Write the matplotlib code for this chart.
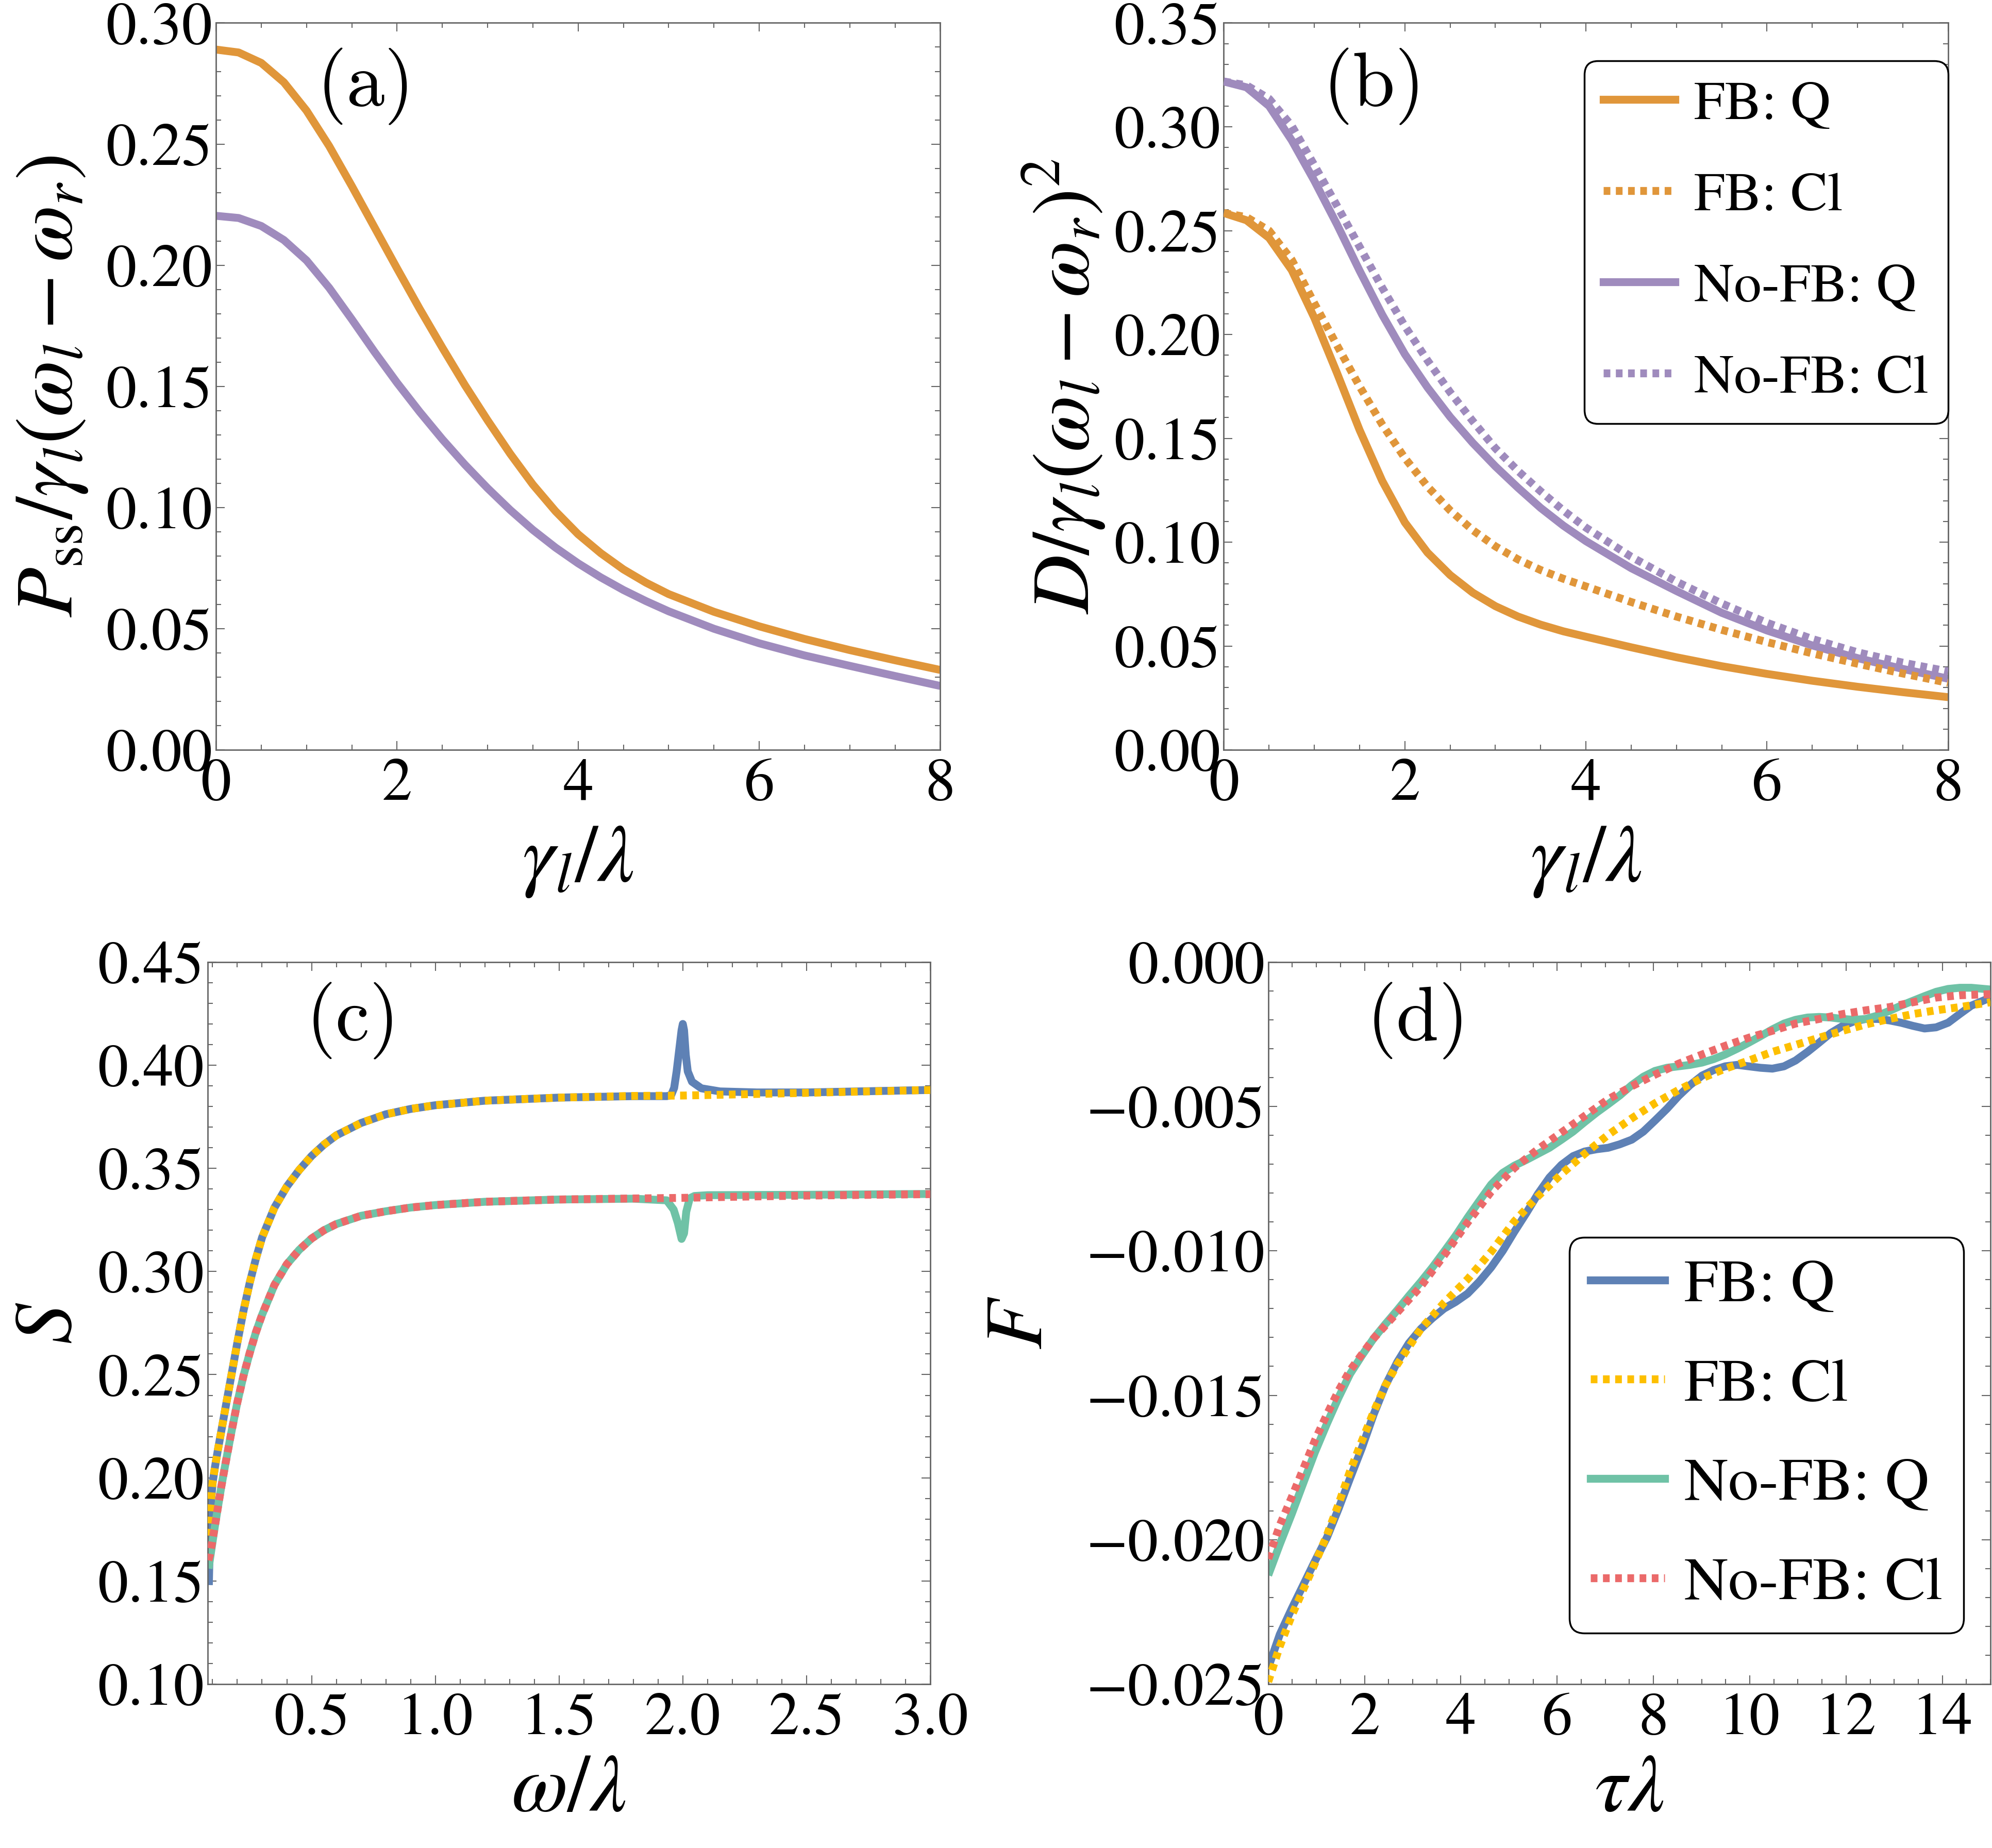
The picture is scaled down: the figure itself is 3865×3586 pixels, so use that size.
import matplotlib
matplotlib.use('Agg')
import matplotlib.pyplot as plt
from matplotlib.ticker import MultipleLocator, FuncFormatter
from matplotlib.lines import Line2D

# ---------------- data ----------------
# panel (a)
gamma_a = [0, 0.25, 0.5, 0.75, 1.0, 1.25, 1.5, 1.75, 2.0, 2.25, 2.5, 2.75, 3.0, 3.25,
           3.5, 3.75, 4.0, 4.25, 4.5, 4.75, 5.0, 5.5, 6.0, 6.5, 7.0, 7.5, 8.0]
pss_fb = [0.2890, 0.2878, 0.2835, 0.2755, 0.2638, 0.2492, 0.2327, 0.2157, 0.1987,
          0.1820, 0.1660, 0.1505, 0.1360, 0.1222, 0.1095, 0.0985, 0.0890, 0.0812,
          0.0745, 0.0690, 0.0643, 0.0570, 0.0510, 0.0458, 0.0412, 0.0370, 0.0330]
pss_nofb = [0.2204, 0.2195, 0.2162, 0.2104, 0.2020, 0.1907, 0.1777, 0.1643, 0.1515,
            0.1395, 0.1282, 0.1177, 0.1080, 0.0990, 0.0908, 0.0835, 0.0770, 0.0712,
            0.0660, 0.0614, 0.0572, 0.0500, 0.0440, 0.0390, 0.0347, 0.0305, 0.0264]

# panel (b)
gamma_b = [0, 0.25, 0.5, 0.75, 1.0, 1.25, 1.5, 1.75, 2.0, 2.25, 2.5, 2.75, 3.0, 3.25,
           3.5, 3.75, 4.0, 4.5, 5.0, 5.5, 6.0, 6.5, 7.0, 7.5, 8.0]
d_fb_q = [0.2585, 0.2550, 0.2465, 0.2310, 0.2080, 0.1815, 0.1540, 0.1295, 0.1095,
          0.0950, 0.0842, 0.0757, 0.0692, 0.0642, 0.0603, 0.0571, 0.0545, 0.0494,
          0.0446, 0.0403, 0.0366, 0.0333, 0.0304, 0.0278, 0.0254]
d_fb_cl = [0.2585, 0.2565, 0.2500, 0.2360, 0.2150, 0.1948, 0.1750, 0.1566, 0.1405,
           0.1268, 0.1153, 0.1058, 0.0980, 0.0917, 0.0866, 0.0824, 0.0787, 0.0712,
           0.0642, 0.0578, 0.0519, 0.0465, 0.0415, 0.0368, 0.0323]
d_nofb_q = [0.3218, 0.3190, 0.3100, 0.2935, 0.2740, 0.2530, 0.2307, 0.2095, 0.1905,
            0.1745, 0.1603, 0.1478, 0.1365, 0.1262, 0.1165, 0.1080, 0.1005, 0.0875,
            0.0765, 0.0660, 0.0575, 0.0503, 0.0442, 0.0390, 0.0343]
d_nofb_cl = [0.3218, 0.3200, 0.3135, 0.3005, 0.2815, 0.2620, 0.2422, 0.2225, 0.2040,
             0.1875, 0.1722, 0.1583, 0.1452, 0.1343, 0.1245, 0.1153, 0.1070, 0.0930,
             0.0810, 0.0705, 0.0612, 0.0534, 0.0470, 0.0420, 0.0378]

# panel (c)
omega_fb_q = [0.085, 0.09, 0.095, 0.1, 0.11, 0.12, 0.135, 0.15, 0.175, 0.2, 0.225, 0.25,
              0.275, 0.3, 0.35, 0.4, 0.45, 0.5, 0.55, 0.6, 0.7, 0.8, 0.9, 1.0, 1.2, 1.5,
              1.8, 1.935, 1.953, 1.965, 1.975, 1.985, 1.995, 2.0, 2.005, 2.012, 2.02,
              2.037, 2.075, 2.15, 2.3, 2.5, 3.0]
s_fb_q = [0.148, 0.176, 0.190, 0.1975, 0.2055, 0.2125, 0.2225, 0.2325, 0.2490, 0.2655,
          0.2810, 0.2945, 0.3062, 0.3165, 0.3310, 0.3412, 0.3492, 0.3560, 0.3615, 0.3660,
          0.3720, 0.3762, 0.3788, 0.3806, 0.3828, 0.3843, 0.3850, 0.3850, 0.3855, 0.3890,
          0.3970, 0.4070, 0.4170, 0.4200, 0.4170, 0.4050, 0.3970, 0.3920, 0.3888, 0.3873,
          0.3868, 0.3868, 0.3880]
omega_fb_cl = [0.083, 0.09, 0.1, 0.11, 0.12, 0.135, 0.15, 0.175, 0.2, 0.225, 0.25, 0.275,
               0.3, 0.35, 0.4, 0.45, 0.5, 0.55, 0.6, 0.7, 0.8, 0.9, 1.0, 1.2, 1.5, 1.8,
               2.0, 2.2, 2.5, 3.0]
s_fb_cl = [0.172, 0.184, 0.1975, 0.2055, 0.2125, 0.2225, 0.2325, 0.2490, 0.2655, 0.2810,
           0.2945, 0.3062, 0.3165, 0.3310, 0.3412, 0.3492, 0.3560, 0.3615, 0.3660, 0.3720,
           0.3762, 0.3788, 0.3806, 0.3828, 0.3843, 0.3851, 0.3853, 0.3858, 0.3866, 0.3880]
omega_nofb_q = [0.084, 0.09, 0.1, 0.11, 0.12, 0.135, 0.15, 0.175, 0.2, 0.225, 0.25, 0.275,
                0.3, 0.35, 0.4, 0.45, 0.5, 0.55, 0.6, 0.7, 0.8, 0.9, 1.0, 1.2, 1.5, 1.8,
                1.935, 1.963, 1.98, 1.995, 2.005, 2.014, 2.028, 2.047, 2.1, 2.3, 2.5, 3.0]
s_nofb_q = [0.156, 0.161, 0.169, 0.177, 0.1845, 0.1955, 0.2055, 0.2215, 0.2365, 0.2495,
            0.2605, 0.2705, 0.2790, 0.2935, 0.3035, 0.3105, 0.3160, 0.3200, 0.3230, 0.3270,
            0.3292, 0.3310, 0.3322, 0.3338, 0.3349, 0.3353, 0.3345, 0.3300, 0.3235, 0.3158,
            0.3185, 0.3290, 0.3355, 0.3366, 0.3370, 0.3371, 0.3372, 0.3376]
omega_nofb_cl = [0.083, 0.09, 0.1, 0.11, 0.12, 0.135, 0.15, 0.175, 0.2, 0.225, 0.25, 0.275,
                 0.3, 0.35, 0.4, 0.45, 0.5, 0.55, 0.6, 0.7, 0.8, 0.9, 1.0, 1.2, 1.5, 1.8,
                 2.0, 2.2, 2.5, 3.0]
s_nofb_cl = [0.160, 0.163, 0.170, 0.177, 0.1845, 0.1955, 0.2055, 0.2215, 0.2365, 0.2495,
             0.2605, 0.2705, 0.2790, 0.2935, 0.3035, 0.3105, 0.3160, 0.3200, 0.3230, 0.3270,
             0.3292, 0.3310, 0.3322, 0.3338, 0.3349, 0.3354, 0.3357, 0.3362, 0.3368, 0.3375]

# panel (d)
tau_q = [0, 0.24, 0.49, 0.73, 0.97, 1.22, 1.46, 1.70, 1.95, 2.19, 2.43, 2.68, 2.92, 3.17,
         3.41, 3.65, 3.89, 4.14, 4.38, 4.63, 4.87, 5.11, 5.36, 5.60, 5.84, 6.09, 6.33,
         6.57, 6.82, 7.06, 7.30, 7.55, 7.79, 8.03, 8.28, 8.52, 8.76, 9.01, 9.25, 9.49,
         9.74, 9.98, 10.22, 10.47, 10.71, 10.95, 11.20, 11.44, 11.68, 11.93, 12.17, 12.41,
         12.66, 12.90, 13.14, 13.39, 13.63, 13.87, 14.12, 14.36, 14.60, 15.0]
f_fb_q = [-0.02443, -0.02328, -0.02238, -0.02156, -0.02074, -0.01992, -0.01893, -0.01787,
          -0.0168, -0.01566, -0.01467, -0.01385, -0.0132, -0.0127, -0.01233, -0.012,
          -0.01177, -0.01148, -0.01107, -0.01057, -0.01, -0.00934, -0.00869, -0.00803,
          -0.00746, -0.00702, -0.00672, -0.00656, -0.00648, -0.00643, -0.00631, -0.00615,
          -0.00587, -0.00549, -0.00508, -0.00464, -0.00426, -0.00393, -0.00374, -0.00361,
          -0.00356, -0.00361, -0.00366, -0.00369, -0.00361, -0.00341, -0.00311, -0.00279,
          -0.00246, -0.00221, -0.00205, -0.00197, -0.00197, -0.00202, -0.0021, -0.00221,
          -0.0023, -0.00226, -0.0021, -0.0018, -0.00151, -0.00123]
f_nofb_q = [-0.02123, -0.02016, -0.0191, -0.01803, -0.01697, -0.01598, -0.01508, -0.01426,
            -0.01361, -0.01303, -0.01254, -0.01205, -0.01156, -0.01107, -0.01057, -0.01003,
            -0.00948, -0.00885, -0.00828, -0.0077, -0.0073, -0.00705, -0.00685, -0.00664,
            -0.00643, -0.00615, -0.00587, -0.00554, -0.00521, -0.00492, -0.00462, -0.00426,
            -0.00397, -0.00377, -0.00366, -0.00361, -0.00356, -0.00348, -0.00336, -0.0032,
            -0.003, -0.00279, -0.00257, -0.00233, -0.00213, -0.002, -0.00192, -0.0019,
            -0.00192, -0.00197, -0.002, -0.00197, -0.00185, -0.00169, -0.00151, -0.00134,
            -0.00118, -0.00103, -0.00093, -0.00089, -0.00089, -0.00095]
tau_fb_cl = [0, 0.24, 0.49, 0.73, 0.97, 1.22, 1.46, 1.70, 1.95, 2.19, 2.43, 2.68, 3.17,
             3.65, 4.14, 4.63, 5.11, 5.60, 6.09, 6.57, 7.06, 7.55, 8.03, 8.52, 9.01, 9.49,
             9.98, 10.47, 10.95, 11.44, 11.93, 12.41, 12.90, 13.39, 13.87, 14.36, 15.0]
f_fb_cl = [-0.02492, -0.02369, -0.02262, -0.02172, -0.02082, -0.01984, -0.01877, -0.01762,
           -0.01656, -0.01557, -0.01467, -0.01393, -0.0127, -0.0118, -0.01098, -0.01003,
           -0.00898, -0.00811, -0.00734, -0.00664, -0.00598, -0.00541, -0.00489, -0.00443,
           -0.00402, -0.00369, -0.00341, -0.00311, -0.00287, -0.00262, -0.00238, -0.00216,
           -0.00197, -0.0018, -0.00167, -0.00156, -0.00139]
tau_nofb_cl = [0, 0.24, 0.49, 0.73, 0.97, 1.22, 1.46, 1.70, 2.19, 2.68, 3.17, 3.65, 4.14,
               4.63, 5.11, 5.60, 6.09, 6.57, 7.06, 7.55, 8.03, 8.52, 9.01, 9.49, 9.98,
               10.47, 10.95, 11.44, 11.93, 12.41, 12.90, 13.39, 13.87, 14.36, 15.0]
f_nofb_cl = [-0.02066, -0.0195, -0.01852, -0.01754, -0.01656, -0.01566, -0.01484, -0.01413,
             -0.01303, -0.01213, -0.01123, -0.01016, -0.00902, -0.00795, -0.00713, -0.00648,
             -0.0059, -0.00533, -0.00475, -0.0043, -0.0039, -0.00352, -0.0032, -0.0029,
             -0.00262, -0.00238, -0.00213, -0.00197, -0.0018, -0.00167, -0.00156, -0.00139,
             -0.00123, -0.00115, -0.00111]

legend_labels = ['FB: Q', 'FB: Cl', 'No-FB: Q', 'No-FB: Cl']

# ---------------- style ----------------
plt.rcParams['font.family'] = ['STIXGeneral', 'DejaVu Serif']
plt.rcParams['mathtext.fontset'] = 'stix'

ORANGE = '#e0963a'
PURPLE = '#9f8bbd'
BLUE = '#5e81b5'
YELLOW = '#fdbf00'
GREEN = '#6fc2a6'
RED = '#eb6a6a'

LW = 11
DOT = (0, (0.85, 0.7))
TICK_FS = 85
LAB_FS = 114
PANEL_FS = 107
FRAME = '#666666'

W, H = 3866, 3586
fig = plt.figure(figsize=(W / 100, H / 100), dpi=100)

ax_a = fig.add_axes([0.1084, 0.5942, 0.3635, 0.3934])
ax_b = fig.add_axes([0.6142, 0.5942, 0.3635, 0.3934])
ax_c = fig.add_axes([0.1042, 0.0887, 0.3627, 0.3907])
ax_d = fig.add_axes([0.6365, 0.0887, 0.3625, 0.3907])


def minus_fmt(dec):
    def f(v, p):
        if abs(v) < 1e-12:
            v = 0.0
        return f'{v:.{dec}f}'.replace('-', '\u2212')
    return FuncFormatter(f)


def style(ax, xlim, ylim, xmaj, xmin, ymaj, ymin, xdec, ydec):
    ax.set_xlim(*xlim)
    ax.set_ylim(*ylim)
    ax.xaxis.set_major_locator(MultipleLocator(xmaj))
    ax.xaxis.set_minor_locator(MultipleLocator(xmin))
    ax.yaxis.set_major_locator(MultipleLocator(ymaj))
    ax.yaxis.set_minor_locator(MultipleLocator(ymin))
    ax.xaxis.set_major_formatter(minus_fmt(xdec))
    ax.yaxis.set_major_formatter(minus_fmt(ydec))
    ax.tick_params(which='both', direction='in', top=True, right=True,
                   color=FRAME, width=1.5)
    ax.tick_params(which='major', length=12)
    ax.tick_params(which='minor', length=7)
    ax.tick_params(axis='x', labelsize=TICK_FS, pad=12)
    ax.tick_params(axis='y', labelsize=TICK_FS, pad=5)
    for s in ax.spines.values():
        s.set_color(FRAME)
        s.set_linewidth(2.0)


def labels(ax, xl, yl, xpos, ypos):
    ax.set_xlabel(xl, fontsize=LAB_FS)
    ax.set_ylabel(yl, fontsize=LAB_FS)
    ax.xaxis.set_label_coords(0.5, xpos)
    ax.yaxis.set_label_coords(ypos, 0.5)
    ax.xaxis.label.set_va('center')
    ax.yaxis.label.set_va('center')


def panel(ax, txt, x, y):
    ax.text(x, y, r'$\mathrm{(' + txt + r')}$', transform=ax.transAxes,
            ha='center', va='center', fontsize=PANEL_FS, math_fontfamily='cm')


def solid(ax, x, y, c):
    ax.plot(x, y, color=c, lw=LW, solid_capstyle='butt', solid_joinstyle='round',
            zorder=2)


def dotted(ax, x, y, c):
    ax.plot(x, y, color=c, lw=LW, linestyle=DOT, dash_capstyle='butt', zorder=3)


def make_legend(ax, handles, fs, anchor, loc, lspace, hlen, htp):
    leg = ax.legend(handles, legend_labels, loc=loc, bbox_to_anchor=anchor,
                    borderaxespad=0, fontsize=fs, frameon=True, fancybox=True,
                    borderpad=0.35, labelspacing=lspace, handlelength=hlen,
                    handletextpad=htp)
    fr = leg.get_frame()
    fr.set_edgecolor('black')
    fr.set_linewidth(2.5)
    fr.set_alpha(1)
    fr.set_boxstyle('round', pad=0, rounding_size=0.25)
    return leg


def handles(c1, c2, c3, c4):
    return [Line2D([], [], color=c1, lw=LW),
            Line2D([], [], color=c2, lw=LW, linestyle=DOT, dash_capstyle='butt'),
            Line2D([], [], color=c3, lw=LW),
            Line2D([], [], color=c4, lw=LW, linestyle=DOT, dash_capstyle='butt')]


# (a)
solid(ax_a, gamma_a, pss_fb, ORANGE)
solid(ax_a, gamma_a, pss_nofb, PURPLE)
style(ax_a, (0, 8), (0, 0.30), 2, 0.5, 0.05, 0.01, 0, 2)
labels(ax_a, r'$\gamma_l/\lambda$', r'$P_{\rm ss}/\gamma_l(\omega_l-\omega_r)$', -0.154, -0.226)
panel(ax_a, 'a', 0.202, 0.913)

# (b)
solid(ax_b, gamma_b, d_fb_q, ORANGE)
dotted(ax_b, gamma_b, d_fb_cl, ORANGE)
solid(ax_b, gamma_b, d_nofb_q, PURPLE)
dotted(ax_b, gamma_b, d_nofb_cl, PURPLE)
style(ax_b, (0, 8), (0, 0.35), 2, 0.5, 0.05, 0.01, 0, 2)
labels(ax_b, r'$\gamma_l/\lambda$', r'$D/\gamma_l(\omega_l-\omega_r)^2$', -0.154, -0.221)
panel(ax_b, 'b', 0.202, 0.913)
make_legend(ax_b, handles(ORANGE, ORANGE, PURPLE, PURPLE), 77, (1.0, 0.9476),
            'upper right', 0.74, 1.3, 0.35)

# (c)
solid(ax_c, omega_fb_q, s_fb_q, BLUE)
dotted(ax_c, omega_fb_cl, s_fb_cl, YELLOW)
solid(ax_c, omega_nofb_q, s_nofb_q, GREEN)
dotted(ax_c, omega_nofb_cl, s_nofb_cl, RED)
style(ax_c, (0.08, 3.0), (0.10, 0.45), 0.5, 0.1, 0.05, 0.01, 1, 2)
labels(ax_c, r'$\omega/\lambda$', r'$S$', -0.149, -0.216)
panel(ax_c, 'c', 0.196, 0.919)

# (d)
solid(ax_d, tau_q, f_fb_q, BLUE)
dotted(ax_d, tau_fb_cl, f_fb_cl, YELLOW)
solid(ax_d, tau_q, f_nofb_q, GREEN)
dotted(ax_d, tau_nofb_cl, f_nofb_cl, RED)
style(ax_d, (0, 15), (-0.025, 0.0), 2, 0.5, 0.005, 0.001, 0, 3)
labels(ax_d, r'$\tau\lambda$', r'$F$', -0.149, -0.34)
panel(ax_d, 'd', 0.202, 0.919)
make_legend(ax_d, handles(BLUE, YELLOW, GREEN, RED), 85, (0.963, 0.0704),
            'lower right', 0.72, 1.22, 0.32)

fig.savefig('out.png', dpi=100)
